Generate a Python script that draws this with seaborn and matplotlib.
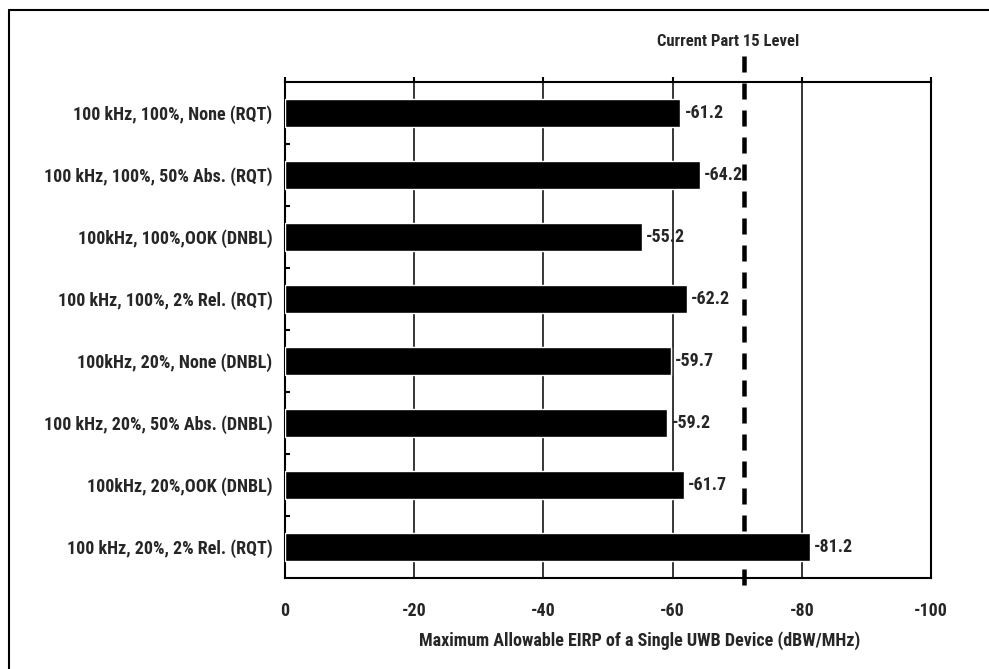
import matplotlib
matplotlib.use("Agg")
import matplotlib.pyplot as plt
import matplotlib.lines as mlines
from matplotlib import font_manager
import seaborn as sns
import pandas as pd
import numpy as np

categories = [
    "100 kHz, 100%, None (RQT)",
    "100 kHz, 100%, 50% Abs. (RQT)",
    "100kHz, 100%,OOK (DNBL)",
    "100 kHz, 100%, 2% Rel. (RQT)",
    "100kHz, 20%, None (DNBL)",
    "100 kHz, 20%, 50% Abs. (DNBL)",
    "100kHz, 20%,OOK (DNBL)",
    "100 kHz, 20%, 2% Rel. (RQT)",
]
values = [-61.2, -64.2, -55.2, -62.2, -59.7, -59.2, -61.7, -81.2]
value_labels = ["-61.2", "-64.2", "-55.2", "-62.2", "-59.7", "-59.2", "-61.7", "-81.2"]
x_ticks = [0, -20, -40, -60, -80, -100]
x_tick_labels = ["0", "-20", "-40", "-60", "-80", "-100"]
part15_level = -71.0
part15_label = "Current Part 15 Level"
x_label = "Maximum Allowable EIRP of a Single UWB Device (dBW/MHz)"

sns.set_theme(style="white")

# pick a narrow bold face if one is installed
candidates = [("Roboto Condensed", 1.0), ("Liberation Sans Narrow", 1.0),
              ("Open Sans Condensed", 1.0), ("DejaVu Sans Condensed", 0.85),
              ("Liberation Sans", 0.82)]
FAM, SCALE = "Liberation Sans", 0.82
for name, sc in candidates:
    try:
        font_manager.findfont(font_manager.FontProperties(family=name, weight="bold"),
                              fallback_to_default=False)
        FAM, SCALE = name, sc
        break
    except Exception:
        continue
plt.rcParams["font.family"] = [FAM, "DejaVu Sans"]
plt.rcParams["font.weight"] = "bold"
FS = 13.0 * SCALE
FS_TITLE = 12.0 * SCALE

df = pd.DataFrame({"config": categories, "eirp": values})

fig = plt.figure(figsize=(9.89, 6.69), dpi=100)
ax = fig.add_axes([285 / 989, 1 - 578 / 669, 646 / 989, 496 / 669])

sns.barplot(data=df, y="config", x="eirp", order=categories, color="black",
            width=0.45, saturation=1, ax=ax, zorder=3)

ax.set_xlim(0, -100)
ax.set_ylim(len(categories) - 0.5, -0.5)
ax.set_xticks(x_ticks)
ax.set_xticklabels(x_tick_labels, fontsize=FS, fontweight="bold")
ax.grid(axis="x", color="black", linewidth=1.1, zorder=1)
ax.grid(axis="y", visible=False)
ax.set_axisbelow(True)

for s in ax.spines.values():
    s.set_visible(True)
    s.set_color("black")
    s.set_linewidth(1.5)

ax.tick_params(axis="x", bottom=False, top=True, labelbottom=True, labeltop=False,
               direction="out", length=3.6, width=1.5, color="black", pad=14)
ax.set_yticks(range(len(categories)))
ax.set_yticklabels(categories, fontsize=FS, fontweight="bold")
ax.tick_params(axis="y", which="major", length=0, pad=9)
ax.set_yticks(np.arange(len(categories) - 1) + 0.5, minor=True)
ax.tick_params(axis="y", which="minor", left=True, direction="in", length=3.6,
               width=1.5, color="black")

ax.set_ylabel("")
ax.set_xlabel(x_label, fontsize=FS, fontweight="bold", va="center")
ax.xaxis.set_label_coords((640 - 285) / 646, (578 - 641) / 496)

for i, (v, lab) in enumerate(zip(values, value_labels)):
    ax.annotate(lab, xy=(v, i), xytext=(3, 0), textcoords="offset points",
                ha="left", va="center", fontsize=FS, fontweight="bold", zorder=5)

trans = ax.get_xaxis_transform()
ax.plot([part15_level, part15_level], [1.0524, -0.0161], transform=trans,
        color="black", linewidth=3.24, linestyle=(0, (3.56, 2.44)),
        clip_on=False, zorder=6, solid_capstyle="butt")
ax.annotate(part15_label, xy=(part15_level, (578 - 41) / 496), xycoords=trans,
            xytext=(-11.5, 0), textcoords="offset points", ha="center",
            va="center", fontsize=FS_TITLE, fontweight="bold", annotation_clip=False)

# outer frame (left and top edges)
fig.add_artist(mlines.Line2D([9 / 989, 9 / 989], [0, 1 - 10 / 669],
                             color="black", linewidth=1.5, transform=fig.transFigure))
fig.add_artist(mlines.Line2D([9 / 989, 1], [1 - 10 / 669, 1 - 10 / 669],
                             color="black", linewidth=1.5, transform=fig.transFigure))

fig.savefig("out.png", dpi=100)
